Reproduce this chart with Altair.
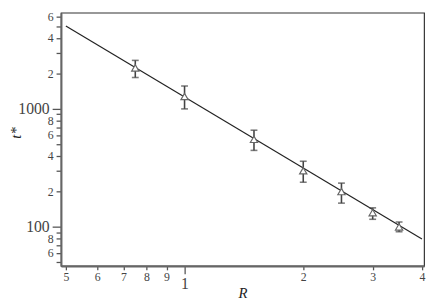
import altair as alt
import pandas as pd

# measured points
R = [0.75, 1.0, 1.5, 2.0, 2.5, 3.0, 3.5]
t_star = [2224, 1273, 552, 299, 199, 132, 100]
t_lo = [1845, 1000, 445, 239, 159, 116, 91]
t_hi = [2577, 1563, 660, 360, 235, 145, 110]

# fitted power law line (endpoints)
fit_R = [0.5, 4.0]
fit_t = [5040, 79]

# axis ticks
x_ticks = [0.5, 0.6, 0.7, 0.8, 0.9, 1, 2, 3, 4]
x_labels = ["5", "6", "7", "8", "9", "1", "2", "3", "4"]
y_ticks = [50, 60, 70, 80, 90, 100, 200, 300, 400, 500, 600, 700, 800, 900,
           1000, 2000, 3000, 4000, 5000, 6000]
y_labels = ["", "6", "", "8", "", "100", "2", "", "4", "", "6", "", "8", "",
            "1000", "2", "", "4", "", "6"]

x_domain = [0.486, 4.05]
y_domain = [46.7, 6530]

pts = pd.DataFrame({"R": R, "t": t_star, "lo": t_lo, "hi": t_hi})
fit = pd.DataFrame({"R": fit_R, "t": fit_t})

FONT = "Liberation Serif, Times New Roman, DejaVu Serif, serif"
GRAY = "#444"


def js_list(v):
    return "[" + ",".join(repr(a) if isinstance(a, str) else str(a) for a in v) + "]"


x_expr = f"{js_list(x_labels)}[indexof({js_list(x_ticks)}, datum.value)]"
y_expr = f"{js_list(y_labels)}[indexof({js_list(y_ticks)}, datum.value)]"

x_scale = alt.Scale(type="log", domain=x_domain, nice=False)
y_scale = alt.Scale(type="log", domain=y_domain, nice=False)

x_axis = alt.Axis(
    values=x_ticks, labelExpr=x_expr, title="R",
    titleFont=FONT, titleFontStyle="italic", titleFontWeight="normal",
    titleFontSize=15, titleColor="#222",
    titleY=32, titleBaseline="alphabetic",
    labelFont=FONT, labelColor=GRAY,
    labelFontSize={"condition": {"test": "datum.value == 1", "value": 16}, "value": 12},
    tickSize={"condition": {"test": "datum.value == 1", "value": 8}, "value": 4},
    labelPadding=2, labelFlush=False, labelOverlap=False,
    domainColor="#666", domainWidth=2, tickColor="#555", tickWidth=1.3,
    grid=False,
)
y_axis = alt.Axis(
    values=y_ticks, labelExpr=y_expr, title="t*",
    titleFont=FONT, titleFontStyle="italic", titleFontWeight="normal",
    titleFontSize=15, titleColor="#222",
    titleX=-38, titleY=122, titleAngle=270,
    labelFont=FONT, labelColor=GRAY,
    labelFontSize={"condition": {"test": "datum.value == 100 || datum.value == 1000", "value": 16}, "value": 12},
    tickSize={"condition": {"test": "datum.value == 100 || datum.value == 1000", "value": 9}, "value": 5},
    labelPadding=3, labelFlush=False, labelOverlap=False,
    domainColor="#666", domainWidth=2, tickColor="#555", tickWidth=1.3,
    grid=False,
)

base = alt.Chart(pts)

line = alt.Chart(fit).mark_line(color="#222", strokeWidth=1.2, clip=True).encode(
    x=alt.X("R:Q", scale=x_scale, axis=x_axis),
    y=alt.Y("t:Q", scale=y_scale, axis=y_axis),
)

bars = base.mark_rule(color=GRAY, strokeWidth=1.6).encode(
    x="R:Q", y="lo:Q", y2="hi:Q"
)
cap_hi = base.mark_tick(color=GRAY, thickness=1.6, size=7, orient="horizontal").encode(
    x="R:Q", y="hi:Q"
)
cap_lo = base.mark_tick(color=GRAY, thickness=1.6, size=7, orient="horizontal").encode(
    x="R:Q", y="lo:Q"
)
points = base.mark_point(shape="triangle-up", filled=False, fill="white",
                         fillOpacity=1, stroke="#666", strokeWidth=1.2,
                         size=55, opacity=1).encode(x="R:Q", y="t:Q")

chart = alt.layer(line, bars, cap_hi, cap_lo, points).properties(
    width=370, height=258,
    autosize=alt.AutoSizeParams(type="none"),
    padding={"left": 54, "top": 2, "right": 4, "bottom": 37},
).configure_view(stroke="#333", strokeWidth=1.2)

chart.save("out.html", embed_options={"renderer": "svg", "actions": False})
